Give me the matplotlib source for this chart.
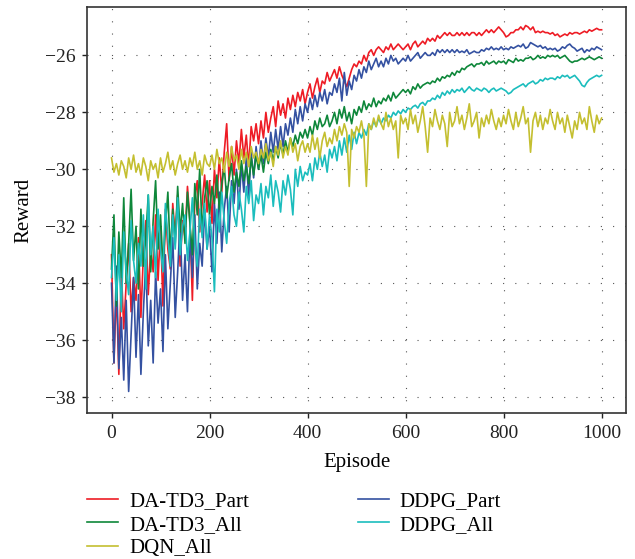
import numpy as np
import matplotlib
matplotlib.use("Agg")
import matplotlib.pyplot as plt

plt.rcParams['font.family'] = ['Liberation Serif', 'DejaVu Serif']

episodes = list(range(0, 1001, 5))

da_td3_part = [
    -33.0, -36.8, -34.2, -37.2, -33.5, -35.6, -34.0, -32.6, -35.0, -33.8,
    -34.6, -32.4, -35.2, -33.0, -31.8, -34.4, -32.8, -33.6, -31.6, -33.9,
    -32.0, -34.8, -31.4, -32.8, -33.5, -31.2, -32.4, -30.9, -33.4, -31.8,
    -32.4, -30.6, -31.8, -34.6, -31.0, -30.4, -32.2, -31.2, -30.2, -31.5,
    -30.4, -31.9, -30.0, -31.0, -29.6, -30.8, -29.4, -28.4, -30.4, -29.2,
    -30.2, -29.0, -29.8, -28.6, -29.6, -28.8, -29.9, -28.5, -29.0, -28.4,
    -29.1, -28.3, -28.9, -28.0, -28.7, -28.2, -27.8, -28.5, -27.6, -28.1,
    -27.7, -28.2, -27.5, -27.9, -27.4, -27.8, -27.3, -27.6, -27.2, -27.7,
    -27.3, -27.0, -27.5, -27.1, -26.8, -27.3, -26.9, -27.0, -26.6, -26.9,
    -26.7, -26.5, -26.8, -26.4, -26.7, -26.9, -27.1, -26.8, -26.5, -26.3,
    -26.4, -26.2, -26.3, -26.0, -26.2, -25.9, -25.8, -26.0, -25.8, -25.7,
    -25.8, -25.9, -25.7, -25.8, -25.6, -25.8, -25.7, -25.6, -25.7, -25.8,
    -25.7, -25.6, -25.8, -25.6, -25.5, -25.7, -25.6, -25.5, -25.6, -25.4,
    -25.5, -25.4, -25.5, -25.3, -25.4, -25.3, -25.2, -25.3, -25.2, -25.3,
    -25.3, -25.2, -25.3, -25.2, -25.3, -25.2, -25.3, -25.2, -25.2, -25.3,
    -25.2, -25.3, -25.2, -25.1, -25.2, -25.1, -25.2, -25.1, -25.0, -25.1,
    -25.2, -25.35, -25.3, -25.2, -25.2, -25.1, -25.1, -25.0, -25.1, -24.95,
    -25.0, -25.1, -25.0, -25.2, -25.15, -25.2, -25.15, -25.2, -25.2, -25.25,
    -25.2, -25.3, -25.25, -25.35, -25.3, -25.25, -25.3, -25.2, -25.25, -25.2,
    -25.2, -25.25, -25.2, -25.15, -25.2, -25.1, -25.15, -25.1, -25.05, -25.1,
    -25.1,
]

ddpg_part = [
    -34.0, -36.8, -33.4, -37.0, -35.2, -37.4, -34.6, -37.8, -35.8, -33.8,
    -36.6, -34.4, -37.2, -35.0, -33.2, -36.2, -34.6, -36.8, -33.6, -35.4,
    -34.2, -36.4, -33.0, -35.6, -34.0, -32.4, -35.2, -33.6, -31.8, -34.6,
    -33.0, -35.0, -32.2, -33.8, -31.6, -34.2, -32.6, -33.4, -31.4, -32.8,
    -32.0, -33.6, -31.2, -32.6, -30.8, -32.9, -31.4, -30.6, -32.2, -30.4,
    -31.2, -30.0, -31.4, -29.8, -30.8, -29.6, -31.0, -29.4, -30.3, -29.2,
    -30.0, -29.0, -29.8, -28.9, -29.6, -28.7, -29.4, -28.6, -29.3, -28.5,
    -29.2, -28.4, -28.8, -28.2, -28.7, -27.9, -28.4, -27.8, -28.3, -27.7,
    -28.0, -27.5, -27.9, -27.4, -27.8, -27.3, -27.6, -27.2, -27.7, -27.3,
    -27.4, -27.0, -27.3, -26.8, -27.6, -26.6, -27.4, -26.9, -27.2, -26.7,
    -26.9, -26.5, -26.8, -26.4, -26.6, -26.2, -26.5, -26.3, -26.1, -26.4,
    -26.2, -26.4, -26.1, -26.3, -26.0, -26.2, -26.1, -26.3, -26.2, -26.1,
    -26.2, -26.0, -26.2, -26.1, -26.0, -25.9, -26.1, -26.0, -25.9, -26.0,
    -26.0, -25.9, -26.0, -25.8, -25.9, -25.8, -25.9, -25.8, -25.9, -25.8,
    -25.9, -25.8, -25.9, -25.85, -25.9, -25.8, -25.95, -25.9, -25.85, -25.9,
    -25.9, -25.8, -25.85, -25.75, -25.8, -25.7, -25.8, -25.75, -25.8, -25.7,
    -25.8, -25.75, -25.8, -25.7, -25.75, -25.7, -25.65, -25.7, -25.6, -25.75,
    -25.7, -25.55, -25.6, -25.65, -25.7, -25.65, -25.75, -25.7, -25.8, -25.75,
    -25.8, -25.75, -25.85, -25.8, -25.7, -25.75, -25.65, -25.6, -25.7, -25.75,
    -25.85, -25.8, -25.75, -25.9, -25.8, -25.85, -25.75, -25.8, -25.7, -25.75,
    -25.8,
]

da_td3_all = [
    -33.5, -31.6, -34.8, -32.2, -33.8, -31.0, -34.0, -32.6, -30.7, -33.2,
    -32.0, -34.2, -31.4, -33.4, -32.4, -30.9, -33.6, -31.8, -30.4, -32.8,
    -31.6, -33.4, -32.0, -30.8, -33.0, -31.4, -32.6, -30.6, -32.2, -31.2,
    -32.6, -30.8, -31.9, -33.0, -30.5, -31.6, -30.0, -32.2, -31.0, -30.4,
    -31.6, -30.6, -31.2, -30.2, -31.4, -30.5, -29.9, -31.0, -30.3, -29.8,
    -30.8, -30.1, -30.6, -29.7, -30.4, -29.9, -30.5, -29.6, -30.2, -29.5,
    -30.0, -29.5, -30.1, -29.4, -29.8, -29.3, -29.7, -29.2, -29.6, -29.1,
    -29.5, -29.0, -29.4, -28.9, -29.2, -28.8, -29.1, -28.7, -28.9, -28.6,
    -28.9, -28.5, -28.8, -28.3, -28.6, -28.2, -28.5, -28.4, -28.1, -28.5,
    -28.3, -28.0, -28.4, -27.9, -28.2, -27.8, -28.3, -28.0, -28.4, -27.9,
    -28.1, -27.8, -28.0, -27.6, -27.9, -27.7, -27.8, -27.5, -27.8, -27.6,
    -27.7, -27.5, -27.6, -27.4, -27.6, -27.3, -27.5, -27.4, -27.3, -27.2,
    -27.3, -27.2, -27.35, -27.1, -27.2, -27.0, -27.15, -27.05, -27.0, -26.95,
    -27.0, -26.9, -26.95, -26.8, -26.9, -26.75, -26.8, -26.7, -26.75, -26.6,
    -26.7, -26.55, -26.6, -26.45, -26.5, -26.4, -26.35, -26.3, -26.4, -26.3,
    -26.3, -26.25, -26.35, -26.2, -26.3, -26.25, -26.2, -26.3, -26.2, -26.25,
    -26.2, -26.3, -26.15, -26.2, -26.25, -26.1, -26.2, -26.15, -26.2, -26.1,
    -26.1, -26.05, -26.15, -26.1, -26.0, -26.1, -26.05, -26.1, -26.0, -26.05,
    -26.0, -26.05, -26.0, -26.1, -26.05, -26.0, -26.1, -26.2, -26.25, -26.2,
    -26.2, -26.15, -26.1, -26.15, -26.1, -26.05, -26.1, -26.15, -26.1, -26.05,
    -26.1,
]

ddpg_all = [
    -33.8, -32.4, -34.6, -33.0, -35.0, -32.2, -33.6, -34.4, -31.8, -33.2,
    -34.0, -32.6, -33.4, -31.6, -34.2, -30.9, -33.0, -32.0, -33.8, -31.4,
    -32.8, -33.6, -31.2, -32.4, -33.4, -31.6, -32.8, -31.0, -33.0, -32.0,
    -31.6, -33.2, -32.2, -31.0, -32.6, -33.4, -31.4, -32.4, -31.2, -32.8,
    -31.6, -32.4, -34.3, -31.4, -32.2, -30.8, -31.8, -32.6, -31.2, -30.6,
    -31.6, -32.0, -30.8, -31.4, -32.2, -30.6, -31.2, -30.4, -31.8, -30.9,
    -31.2, -30.5, -31.6, -30.6, -31.0, -30.2, -31.3, -30.4, -30.8, -31.5,
    -30.4, -30.9, -30.2, -30.7, -31.6, -30.0, -30.6, -29.9, -30.4, -30.1,
    -30.2, -29.8, -30.4, -29.6, -30.0, -29.4, -29.9, -29.5, -30.1, -29.3,
    -29.6, -29.2, -29.7, -29.0, -29.5, -28.9, -29.4, -28.8, -29.3, -28.7,
    -29.1, -28.7, -28.9, -28.6, -28.8, -28.4, -28.6, -28.3, -28.5, -28.2,
    -28.4, -28.2, -28.3, -28.1, -28.2, -28.0, -28.1, -27.95, -28.05, -27.9,
    -28.0, -27.85, -27.9, -27.8, -27.75, -27.85, -27.7, -27.65, -27.75, -27.6,
    -27.6, -27.5, -27.55, -27.4, -27.5, -27.3, -27.4, -27.25, -27.35, -27.2,
    -27.3, -27.2, -27.25, -27.15, -27.3, -27.2, -27.1, -27.2, -27.25, -27.15,
    -27.2, -27.25, -27.15, -27.2, -27.3, -27.2, -27.15, -27.25, -27.2, -27.15,
    -27.2, -27.25, -27.35, -27.3, -27.2, -27.15, -27.1, -27.05, -27.0, -27.1,
    -27.0, -26.95, -26.9, -27.0, -26.95, -26.85, -26.9, -26.8, -26.85, -26.8,
    -26.8, -26.85, -26.75, -26.8, -26.7, -26.75, -26.7, -26.8, -26.75, -26.7,
    -26.8, -26.9, -27.05, -27.1, -26.95, -26.85, -26.8, -26.75, -26.7, -26.75,
    -26.7,
]

dqn_all = [
    -29.6, -30.1, -29.8, -30.2, -29.7, -29.9, -30.3, -29.6, -30.0, -29.5,
    -30.1, -29.8, -30.2, -29.6, -29.9, -30.4, -29.7, -30.0, -29.8, -30.3,
    -29.6, -30.1, -29.8, -29.4, -30.0, -29.7, -30.2, -29.8, -29.5, -30.0,
    -29.7, -30.1, -29.6, -29.9, -29.4, -30.0, -29.7, -30.2, -29.5, -29.8,
    -29.9, -29.5, -30.0, -29.3, -29.8, -29.6, -30.1, -29.4, -29.9, -29.2,
    -29.7, -29.5, -30.0, -29.3, -29.8, -29.4, -29.9, -29.2, -29.6, -29.4,
    -29.8, -29.3, -29.6, -29.1, -29.7, -29.4, -29.9, -29.2, -29.5, -29.0,
    -29.6, -29.2, -29.5, -28.9, -29.4, -29.1, -29.7, -29.2, -29.0, -29.4,
    -29.1, -29.4, -28.8, -29.3, -28.9, -29.6, -29.0, -28.7, -29.2, -28.9,
    -29.1, -28.6, -29.0, -28.5, -28.8, -28.4, -28.7, -30.6, -28.6, -28.9,
    -28.5, -28.7, -28.3, -28.8, -30.6, -28.4, -28.6, -28.2, -28.5, -28.1,
    -28.4, -28.6, -28.0, -28.5, -28.2, -28.6, -28.3, -29.6, -28.1, -28.4,
    -28.2, -28.6, -27.9, -28.4, -28.1, -28.7, -28.3, -27.8, -28.5, -29.4,
    -28.2, -28.5, -27.9, -28.3, -28.6, -28.1, -28.4, -29.2, -28.0, -28.5,
    -28.3, -27.8, -28.4, -28.1, -28.6, -28.2, -27.7, -28.5, -28.3, -28.0,
    -28.9, -28.2, -28.5, -28.1, -28.4, -27.9, -28.3, -28.6, -28.2, -28.5,
    -28.1, -28.4, -27.9, -28.3, -28.6, -28.0, -28.5, -28.2, -27.8, -28.4,
    -28.2, -29.4, -28.3, -28.0, -28.5, -28.1, -28.6, -28.2, -28.4, -27.9,
    -28.3, -28.6, -28.0, -28.4, -28.2, -28.7, -28.1, -28.5, -28.9, -28.3,
    -28.6, -28.0, -28.4, -28.2, -28.6, -27.8, -28.3, -28.7, -28.1, -28.4,
    -28.2,
]

labels = ["DA-TD3_Part", "DA-TD3_All", "DQN_All", "DDPG_Part", "DDPG_All"]
colors = {"DA-TD3_Part": "#ee1c25", "DA-TD3_All": "#0e873a", "DQN_All": "#c4bf30",
          "DDPG_Part": "#3451a1", "DDPG_All": "#1bbdbd"}
series = {"DA-TD3_Part": da_td3_part, "DA-TD3_All": da_td3_all, "DQN_All": dqn_all,
          "DDPG_Part": ddpg_part, "DDPG_All": ddpg_all}
draw_order = ["DA-TD3_Part", "DDPG_Part", "DA-TD3_All", "DDPG_All", "DQN_All"]

fig = plt.figure(figsize=(6.35, 5.59), dpi=100)
ax = fig.add_axes([0.137, 0.261, 0.849, 0.7265])

handles = {}
for name in draw_order:
    ln, = ax.plot(episodes, series[name], color=colors[name], lw=1.2, label=name)
    handles[name] = ln

ax.set_xlim(-50, 1050)
ax.set_ylim(-38.56, -24.3)
ax.set_xticks([0, 200, 400, 600, 800, 1000])
ax.set_yticks([-38, -36, -34, -32, -30, -28, -26])
ax.set_yticklabels(["\u221238", "\u221236", "\u221234", "\u221232", "\u221230", "\u221228", "\u221226"])
ax.grid(True, color="#555555", linestyle=(0, (1, 10)), lw=0.8)
ax.tick_params(direction="out", length=3.5, width=1, labelsize=14, colors="#222222", pad=5)
for s in ax.spines.values():
    s.set_color("#333333")
    s.set_linewidth(1.2)
ax.set_xlabel("Episode", fontsize=15, labelpad=8)
ax.set_ylabel("Reward", fontsize=15, labelpad=8)

fig.legend([handles[n] for n in labels], labels, loc="upper left",
           bbox_to_anchor=(0.124, 0.136), ncol=2, frameon=False, fontsize=15,
           handlelength=1.5, handletextpad=0.53, labelspacing=0.2, columnspacing=5.2,
           borderaxespad=0)

fig.savefig("out.png", dpi=100)
